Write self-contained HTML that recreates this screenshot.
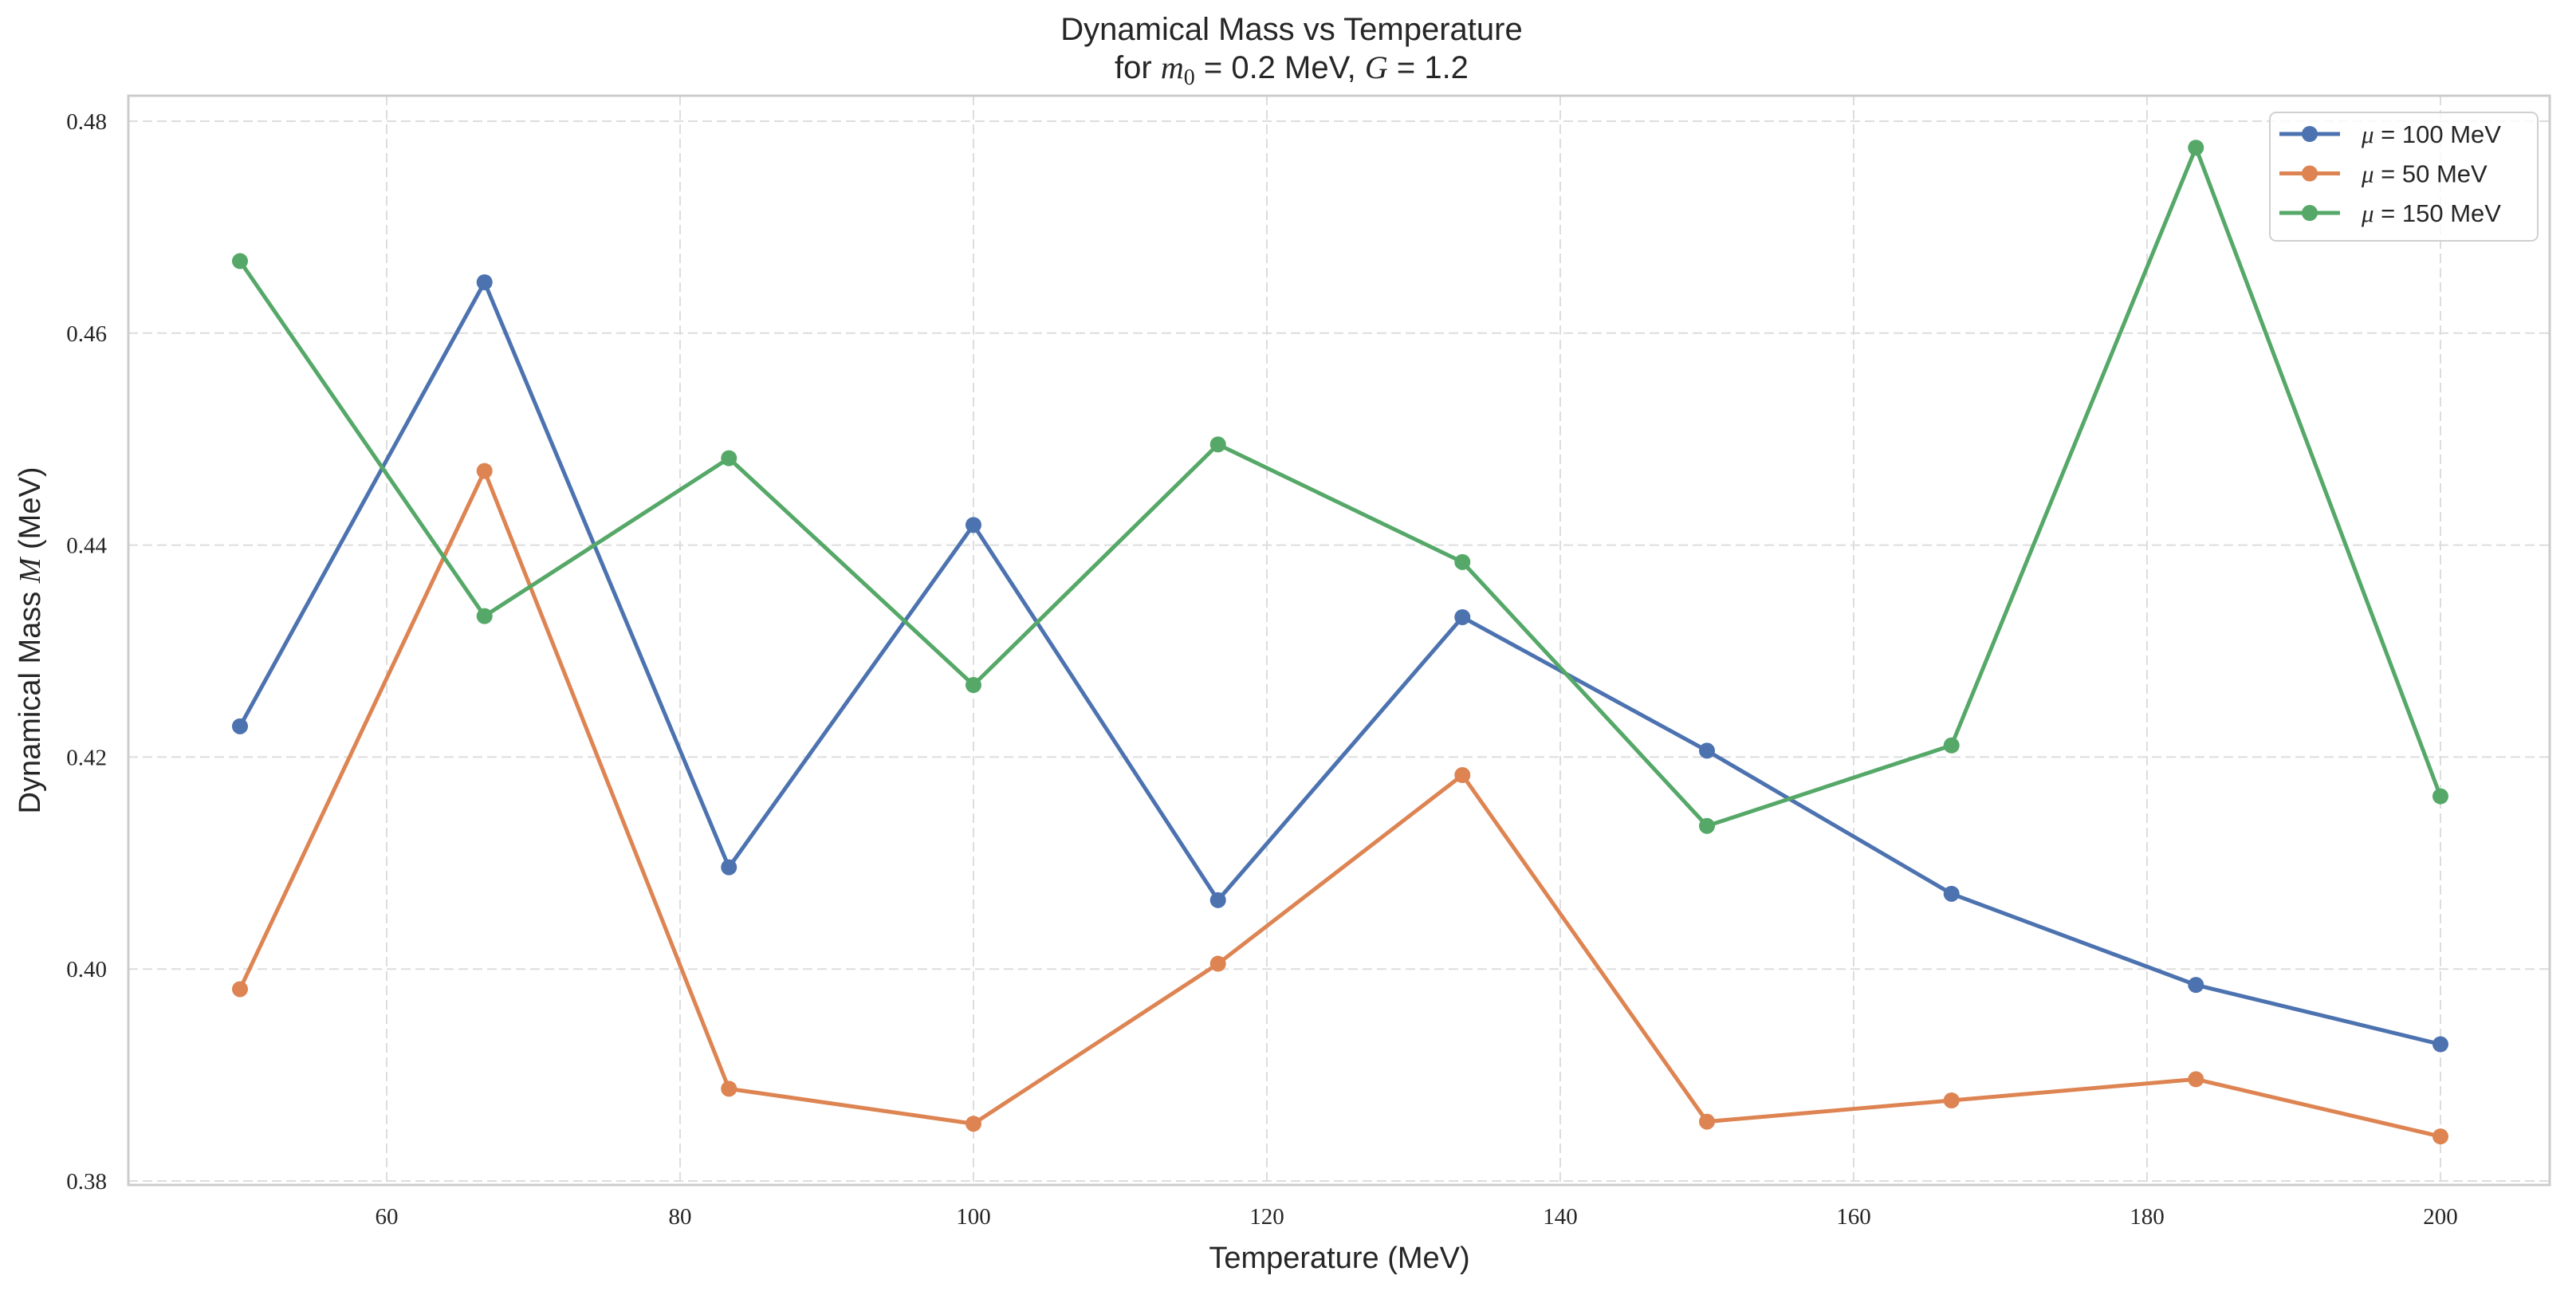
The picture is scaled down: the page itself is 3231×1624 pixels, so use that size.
<!DOCTYPE html>
<html><head><meta charset="utf-8"><style>
html,body{margin:0;padding:0;background:#fff;}
svg text{font-family:"Liberation Sans",sans-serif;fill:#262626;}
.tick{font-family:"Liberation Serif",serif;font-size:29px;}
</style></head><body>
<svg id="chart" width="3231" height="1619" viewBox="0 0 3231 1619" xmlns="http://www.w3.org/2000/svg">
<text x="1620" y="50" text-anchor="middle" font-size="40">Dynamical Mass vs Temperature</text>
<text x="1620" y="98" text-anchor="middle" font-size="40">for <tspan font-family="Liberation Serif" font-style="italic">m</tspan><tspan font-family="Liberation Serif" font-size="28" dy="8">0</tspan><tspan dy="-8"> = 0.2 MeV, </tspan><tspan font-family="Liberation Serif" font-style="italic">G</tspan> = 1.2</text>
<g id="grid"></g>
<rect x="161" y="120" width="3037" height="1366" fill="none" stroke="#cccccc" stroke-width="3"/>
<g id="ticks"></g>
<g id="series"></g>
<text x="1680" y="1590" text-anchor="middle" font-size="38">Temperature (MeV)</text>
<text transform="translate(50,803) rotate(-90)" text-anchor="middle" font-size="38">Dynamical Mass <tspan font-family="Liberation Serif" font-style="italic">M</tspan> (MeV)</text>
<g>
<rect x="2847" y="141" width="336" height="161" rx="8" fill="#fff" fill-opacity="0.8" stroke="#d0d0d0" stroke-width="2"/>
<g id="legend-entries"></g>
</g>
</svg>
<script>
const temps = [50, 66.67, 83.33, 100, 116.67, 133.33, 150, 166.67, 183.33, 200];
const mu100 = [0.4229, 0.4648, 0.4096, 0.4419, 0.4065, 0.4332, 0.4206, 0.4071, 0.3985, 0.3929];
const mu50 = [0.3981, 0.4470, 0.3887, 0.3854, 0.4005, 0.4183, 0.3856, 0.3876, 0.3896, 0.3842];
const mu150 = [0.4668, 0.4333, 0.4482, 0.4268, 0.4495, 0.4384, 0.4135, 0.4211, 0.4775, 0.4163];
const seriesLabels = ["100", "50", "150"];
const xTicks = [60, 80, 100, 120, 140, 160, 180, 200];
const yTicks = ["0.38", "0.40", "0.42", "0.44", "0.46", "0.48"];
const colors = ["#4c72b0", "#dd8452", "#55a868"];
const NS = "http://www.w3.org/2000/svg";
function xs(v){return 485 + (v-60)*18.4;}
function ys(v){return 1481 - (v-0.38)*13290;}
function mk(tag, attrs, parent){const e=document.createElementNS(NS,tag);for(const k in attrs)e.setAttribute(k,attrs[k]);parent.appendChild(e);return e;}
const grid=document.getElementById('grid'), ticks=document.getElementById('ticks');
xTicks.forEach(t=>{
  const l=mk('line',{x1:xs(t),x2:xs(t),y1:120,y2:1486,stroke:'#dddddd','stroke-width':2,'stroke-dasharray':'12 6'},grid);
  
  
  const tx=mk('text',{x:xs(t),y:1535,'text-anchor':'middle','class':'tick'},ticks);
  tx.textContent=t;
  
  
});
yTicks.forEach(t=>{
  const v=parseFloat(t);
  const l=mk('line',{x1:161,x2:3198,y1:ys(v),y2:ys(v),stroke:'#dddddd','stroke-width':2,'stroke-dasharray':'12 6'},grid);
  
  
  const tx=mk('text',{x:134,y:ys(v)+10,'text-anchor':'end','class':'tick'},ticks);
  tx.textContent=t;
  
  
});
const series=document.getElementById('series');
[mu100, mu50, mu150].forEach((d,i)=>{
  const pl=mk('polyline',{points:d.map((v,j)=>xs(temps[j])+','+ys(v)).join(' '),fill:'none',stroke:colors[i],'stroke-width':5,'stroke-linejoin':'round'},series);
  
  
  d.forEach((v,j)=>{
    const c=mk('circle',{cx:xs(temps[j]),cy:ys(v),r:10,fill:colors[i]},series);
    
    
  });
});
const le=document.getElementById('legend-entries');
seriesLabels.forEach((s,i)=>{
  const y=168+i*49.5;
  const l=mk('line',{x1:2859,x2:2935,y1:y,y2:y,stroke:colors[i],'stroke-width':5},le);
  
  
  const c=mk('circle',{cx:2897,cy:y,r:10,fill:colors[i]},le);
  
  
  const t=mk('text',{x:2962,y:y+11,'font-size':31},le);
  t.innerHTML='<tspan font-family="Liberation Serif" font-style="italic">μ</tspan> = '+s+' MeV';
  
  
});
</script>
</body></html>
